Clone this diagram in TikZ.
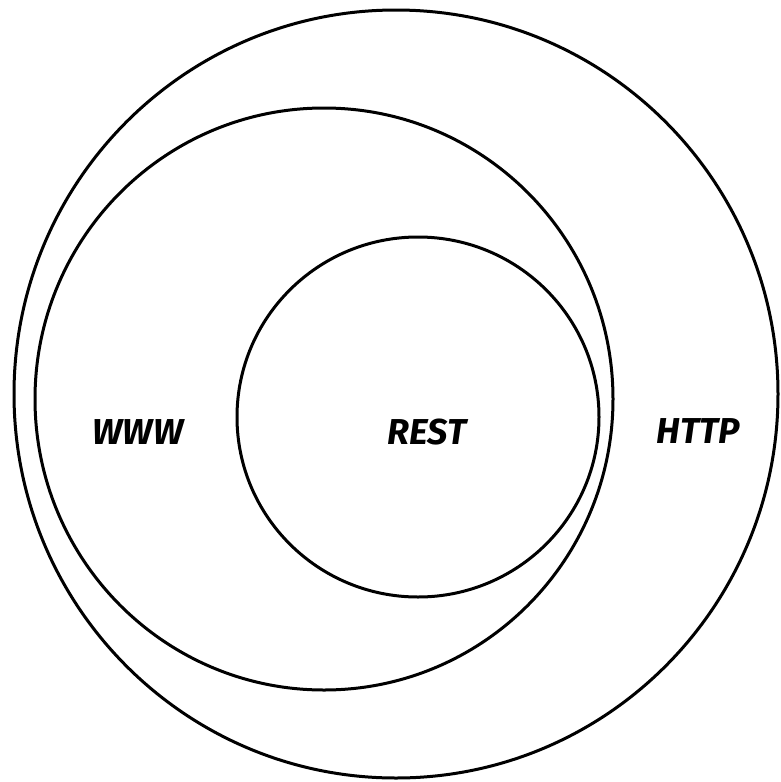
\documentclass[tikz,border=0pt]{standalone}
\usepackage{fontspec}
\setmainfont{Fira Sans}
\begin{document}
\begin{tikzpicture}[x=1pt,y=-1pt,
  ring/.style={draw=black,line width=3pt},
  lbl/.style={font=\fontsize{36}{36}\selectfont\bfseries\itshape,inner sep=0pt,anchor=center}]
\useasboundingbox (0,0) rectangle (781,782);
\draw[ring] (396,394) ellipse [x radius=382,y radius=384];
\draw[ring] (324,399) ellipse [x radius=289,y radius=291];
\draw[ring] (418,417) ellipse [x radius=181,y radius=180];
\node[lbl] (www) at (138,432) {WWW};
\node[lbl] (rest) at (427,432) {REST};
\node[lbl] (http) at (698,431) {HTTP};
\end{tikzpicture}
\end{document}
